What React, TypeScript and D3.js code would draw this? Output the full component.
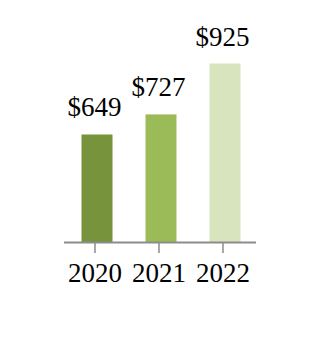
import React from "react";
import * as d3 from "d3";

const years = ["2020", "2021", "2022"];
const values = [649, 727, 925];
const colors = ["#77933C", "#9BBB59", "#D7E4BD"];

export default function App() {
  const width = 320;
  const height = 354;
  const x = d3.scaleBand<string>().domain(years).range([64, 256]).padding(0);
  const y = d3.scaleLinear().domain([229, 925]).range([242.5, 63.5]);
  const barW = 31;
  const font = "'Liberation Serif', 'Times New Roman', serif";

  return (
    <svg
      width={width}
      height={height}
      style={{ position: "absolute", left: 0, top: 0 }}
      fontFamily={font}
    >
      <rect width={width} height={height} fill="#ffffff" />
      {years.map((yr, i) => {
        const cx = (x(yr) as number) + x.bandwidth() / 2;
        return (
          <g key={yr}>
            <rect
              x={cx - barW / 2 + 1}
              y={y(values[i])}
              width={barW}
              height={y.range()[0] - y(values[i])}
              fill={colors[i]}
            />
            <text
              x={cx - 1.5}
              y={y(values[i]) - 18}
              textAnchor="middle"
              fontSize={27}
              fill="#000"
            >
              {"$" + values[i]}
            </text>
          </g>
        );
      })}
      <line x1={64} x2={256} y1={242.5} y2={242.5} stroke="#8c8c8c" strokeWidth={2} />
      {years.map((yr) => {
        const cx = (x(yr) as number) + x.bandwidth() / 2 - 1;
        return (
          <g key={"t" + yr}>
            <line x1={cx} x2={cx} y1={243} y2={253} stroke="#8c8c8c" strokeWidth={1.5} />
            <text x={cx} y={282} textAnchor="middle" fontSize={27} fill="#000">
              {yr}
            </text>
          </g>
        );
      })}
    </svg>
  );
}
